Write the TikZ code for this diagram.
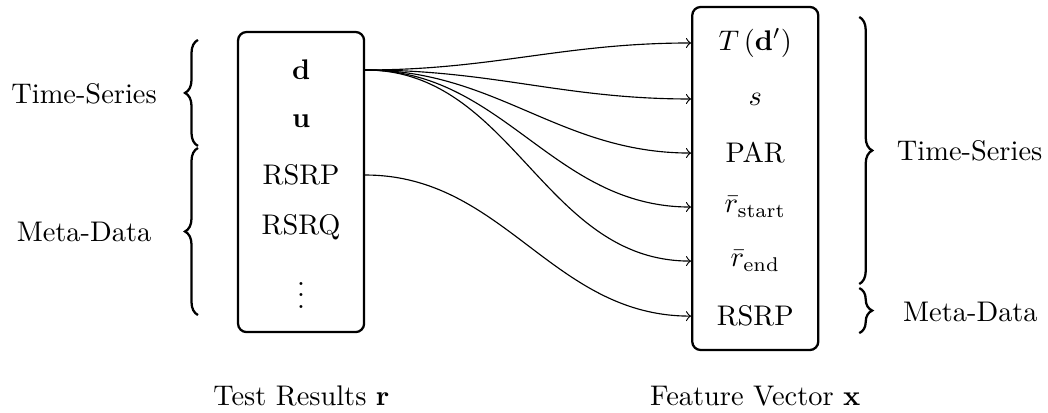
\documentclass[tikz,border=0pt]{standalone}
\usepackage{amsmath,amssymb}
\usetikzlibrary{decorations.pathreplacing}

\begin{document}
\begin{tikzpicture}[
  box/.style={draw, thick, rounded corners=3pt, minimum width=15.6mm, inner sep=0pt},
  a/.style={->},
  brc/.style={decorate, decoration={brace, amplitude=1.6mm}, thick},
  lbl/.style={inner sep=2pt}]
\useasboundingbox (0,0) rectangle (129.7mm,51mm);

\node[box, minimum height=37.14mm] (tr) at (37.26mm,28.47mm) {};
\node[box, minimum height=42.46mm] (fv) at (93.47mm,28.91mm) {};

\foreach \n/\y/\t in {ld/42.34/{$\mathbf{d}$}, lu/36.03/{$\mathbf{u}$},
                      lp/29.34/{RSRP}, lq/22.90/{RSRQ}} {
  \node (\n) at (37.26mm,\y mm) {\t};
}
\node[anchor=base] (lv) at (37.26mm,12.87mm) {$\vdots$};

\foreach \n/\y/\t in {rt/45.68/{$T\left(\mathbf{d}'\right)$}, rs/38.75/{$s$},
                      ra/32.06/{PAR}, rb/25.38/{$\bar{r}_{\text{start}}$},
                      re/18.69/{$\bar{r}_{\text{end}}$}, rp/11.88/{RSRP}} {
  \node (\n) at (93.47mm,\y mm) {\t};
}

\foreach \n in {rt,rs,ra,rb,re} { \draw[a] (tr.east |- ld) to[out=0, in=180] (fv.west |- \n); }
\draw[a] (tr.east |- lp) to[out=0, in=180] (fv.west |- rp);

\draw[brc] (24.5mm,32.94mm) -- (24.5mm,46.06mm);
\draw[brc] (24.5mm,12.01mm) -- (24.5mm,32.69mm);
\draw[brc] (106.34mm,48.90mm) -- (106.34mm,15.85mm);
\draw[brc] (106.34mm,15.35mm) -- (106.34mm,9.78mm);

\node[lbl] (lts) at (10.4mm,39.4mm) {Time-Series};
\node[lbl] (lmd) at (10.4mm,22.3mm) {Meta-Data};
\node[lbl] (rts) at (120.0mm,32.3mm) {Time-Series};
\node[lbl] (rmd) at (120.1mm,12.4mm) {Meta-Data};

\node[lbl] (trl) at (37.3mm,2.0mm) {Test Results $\mathbf{r}$};
\node[lbl] (fvl) at (93.47mm,2.0mm) {Feature Vector $\mathbf{x}$};
\end{tikzpicture}
\end{document}
